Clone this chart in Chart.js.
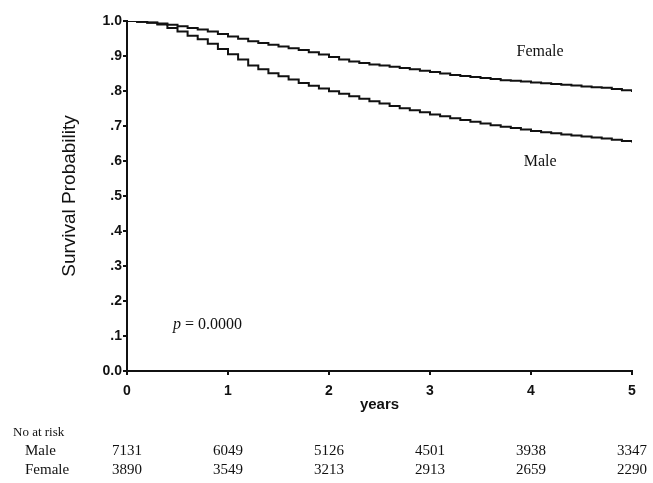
<!DOCTYPE html>
<html>
<head>
<meta charset="utf-8">
<title>Survival by sex</title>
<script src="https://cdn.jsdelivr.net/npm/chart.js@4/dist/chart.umd.min.js"></script>
<style>
  html, body { margin: 0; padding: 0; background: #fff; }
  #wrap { width: 653px; height: 483px; }
</style>
</head>
<body>
<div id="wrap"><canvas id="survChart" width="653" height="483"></canvas></div>
<script>
// follow-up time (years) and Kaplan-Meier estimates
const years = [0, 0.1, 0.2, 0.3, 0.4, 0.5, 0.6, 0.7, 0.8, 0.9,
               1.0, 1.1, 1.2, 1.3, 1.4, 1.5, 1.6, 1.7, 1.8, 1.9,
               2.0, 2.1, 2.2, 2.3, 2.4, 2.5, 2.6, 2.7, 2.8, 2.9,
               3.0, 3.1, 3.2, 3.3, 3.4, 3.5, 3.6, 3.7, 3.8, 3.9,
               4.0, 4.1, 4.2, 4.3, 4.4, 4.5, 4.6, 4.7, 4.8, 4.9, 5.0];

const femaleSurv = [1.000, 0.998, 0.996, 0.993, 0.989, 0.985, 0.980, 0.976, 0.970, 0.963,
                    0.956, 0.949, 0.942, 0.937, 0.932, 0.927, 0.922, 0.917, 0.911, 0.904,
                    0.897, 0.890, 0.884, 0.880, 0.876, 0.873, 0.869, 0.866, 0.862, 0.858,
                    0.854, 0.850, 0.846, 0.843, 0.840, 0.837, 0.834, 0.831, 0.829, 0.827,
                    0.824, 0.822, 0.820, 0.818, 0.816, 0.813, 0.811, 0.809, 0.806, 0.802, 0.797];

const maleSurv = [1.000, 0.998, 0.995, 0.990, 0.980, 0.970, 0.958, 0.948, 0.935, 0.920,
                  0.905, 0.890, 0.873, 0.862, 0.851, 0.842, 0.833, 0.823, 0.815, 0.807,
                  0.799, 0.792, 0.785, 0.778, 0.771, 0.764, 0.757, 0.751, 0.745, 0.739,
                  0.733, 0.728, 0.722, 0.717, 0.712, 0.707, 0.702, 0.698, 0.694, 0.690,
                  0.686, 0.682, 0.679, 0.676, 0.673, 0.670, 0.667, 0.664, 0.661, 0.657, 0.653];

// numbers at risk at each whole year
const riskYears = [0, 1, 2, 3, 4, 5];
const maleAtRisk = [7131, 6049, 5126, 4501, 3938, 3347];
const femaleAtRisk = [3890, 3549, 3213, 2913, 2659, 2290];

const SANS = 'Arial, "Liberation Sans", sans-serif';
const SERIF = '"Times New Roman", "Liberation Serif", serif';
const INK = '#111';

const toXY = (arr) => arr.map((v, i) => ({ x: years[i], y: v }));

// curve labels, p-value and the at-risk table under the axis
const annotations = {
    id: 'annotations',
    afterDraw(chart) {
        const { ctx } = chart;
        const xs = chart.scales.x;
        const ys = chart.scales.y;
        ctx.save();
        ctx.fillStyle = INK;
        ctx.textBaseline = 'middle';

        ctx.font = '16px ' + SERIF;
        ctx.textAlign = 'center';
        ctx.fillText('Female', xs.getPixelForValue(4.09), ys.getPixelForValue(0.911));
        ctx.fillText('Male', xs.getPixelForValue(4.09), ys.getPixelForValue(0.597));

        // p-value with italic p
        let px = xs.getPixelForValue(0.455);
        const py = ys.getPixelForValue(0.131);
        ctx.textAlign = 'left';
        ctx.font = 'italic 16px ' + SERIF;
        ctx.fillText('p', px, py);
        px += ctx.measureText('p').width;
        ctx.font = '16px ' + SERIF;
        ctx.fillText(' = 0.0000', px, py);

        ctx.font = '13px ' + SERIF;
        ctx.fillText('No at risk', 13, 433);
        ctx.font = '15px ' + SERIF;
        ctx.fillText('Male', 25, 451);
        ctx.fillText('Female', 25, 470);

        ctx.textAlign = 'center';
        riskYears.forEach((yr, i) => {
            const x = xs.getPixelForValue(yr);
            ctx.fillText(String(maleAtRisk[i]), x, 451);
            ctx.fillText(String(femaleAtRisk[i]), x, 470);
        });
        ctx.restore();
    }
};

const ctx = document.getElementById('survChart').getContext('2d');
new Chart(ctx, {
    type: 'line',
    data: {
        datasets: [
            {
                label: 'Female',
                data: toXY(femaleSurv),
                borderColor: INK,
                borderWidth: 2,
                pointRadius: 0,
                stepped: true,
                fill: false
            },
            {
                label: 'Male',
                data: toXY(maleSurv),
                borderColor: INK,
                borderWidth: 2,
                pointRadius: 0,
                stepped: true,
                fill: false
            }
        ]
    },
    options: {
        responsive: false,
        animation: false,
        layout: { padding: { top: 21, right: 21, left: 0, bottom: 0 } },
        plugins: {
            legend: { display: false },
            tooltip: { enabled: false }
        },
        scales: {
            x: {
                type: 'linear',
                min: 0,
                max: 5,
                afterFit: (scale) => { scale.height = 112; },
                border: { display: true, color: INK, width: 2 },
                grid: { display: true, drawOnChartArea: false, drawTicks: true, tickLength: 4, color: INK, lineWidth: 2 },
                ticks: {
                    stepSize: 1,
                    padding: 8,
                    color: INK,
                    font: { family: SANS, size: 14, weight: 'bold' }
                },
                title: {
                    display: true,
                    text: 'years',
                    color: INK,
                    padding: { top: 0, bottom: 69 },
                    font: { family: SANS, size: 15, weight: 'bold' }
                }
            },
            y: {
                min: 0,
                max: 1,
                afterFit: (scale) => { scale.width = 127; },
                border: { display: true, color: INK, width: 2 },
                grid: { display: true, drawOnChartArea: false, drawTicks: true, tickLength: 4, color: INK, lineWidth: 2 },
                ticks: {
                    stepSize: 0.1,
                    padding: 1,
                    color: INK,
                    font: { family: SANS, size: 14, weight: 'bold' },
                    callback: (v) => {
                        const tenth = Math.round(v * 10);
                        if (tenth === 10) return '1.0';
                        if (tenth === 0) return '0.0';
                        return '.' + tenth;
                    }
                },
                title: {
                    display: true,
                    text: 'Survival Probability',
                    color: INK,
                    padding: { top: 58, bottom: 0 },
                    font: { family: SANS, size: 19 }
                }
            }
        }
    },
    plugins: [annotations]
});
</script>
</body>
</html>
